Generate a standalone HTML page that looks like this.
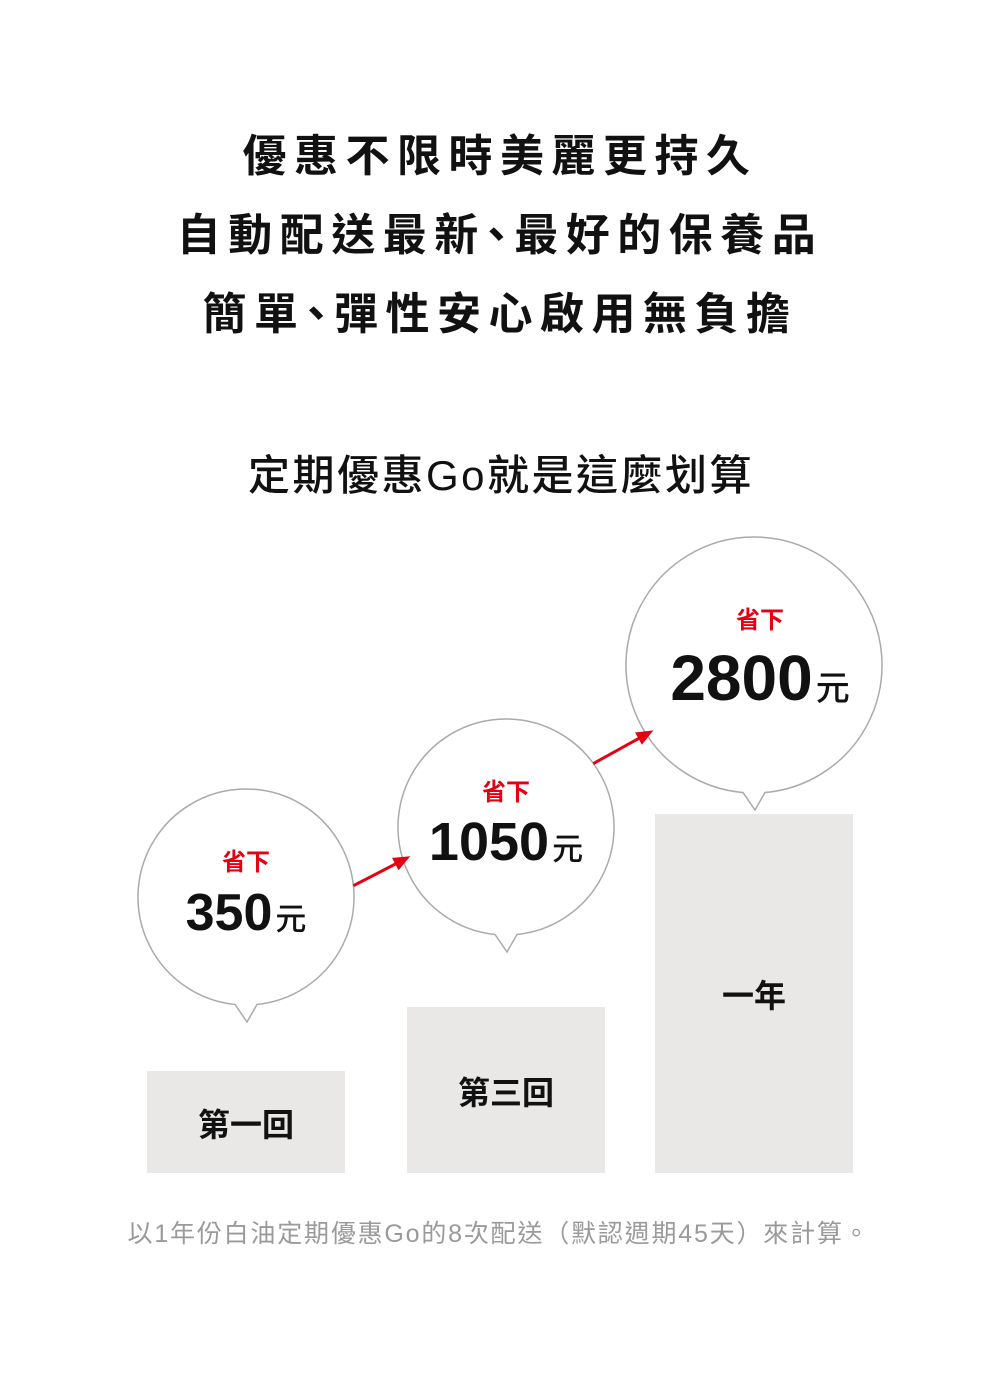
<!DOCTYPE html>
<html><head><meta charset="utf-8"><style>
html,body{margin:0;padding:0;background:#fff;}
svg{display:block;font-family:"Liberation Sans","Noto Sans CJK TC",sans-serif;}
</style></head><body>
<svg id="c" width="1000" height="1395" viewBox="0 0 1000 1395">
<g font-weight="700" font-size="44" fill="#111" text-anchor="middle" letter-spacing="7.5">
<text x="500" y="171">優惠不限時美麗更持久</text>
<text x="500" y="250">自動配送最<tspan letter-spacing="-4">新</tspan><tspan letter-spacing="-4">、</tspan>最好的保養品</text>
<text x="500" y="329">簡<tspan letter-spacing="-4">單</tspan><tspan letter-spacing="-4">、</tspan>彈性安心啟用無負擔</text>
</g>
<text x="501" y="490" text-anchor="middle" font-size="42" font-weight="500" fill="#111" letter-spacing="2.5">定期優惠Go就是這麼划算</text>
<g id="marks"></g>
<text x="499" y="1242" text-anchor="middle" font-size="25" fill="#9a9a9a" letter-spacing="1.8">以1年份白油定期優惠Go的8次配送（默認週期45天）來計算。</text>
</svg>
<script>
const categories = ["第一回","第三回","一年"];
const savings = [350,1050,2800];
const barValues = [102,166,359];
const bubbleRadius = [108,108,128];
const ns="http://www.w3.org/2000/svg";
const g=document.getElementById('marks');
const baseY=1173, barW=198;
const tipOffset=[49,55,4];
function xPos(i){return [147,407,655][i];}
function yScale(v){return baseY - v;}
function mk(t,a){const e=document.createElementNS(ns,t);for(const k in a)e.setAttribute(k,a[k]);g.appendChild(e);return e;}
const centers=[];
categories.forEach((c,i)=>{
  const x=xPos(i), y=yScale(barValues[i]);
  const r=mk('rect',{x:x,y:y,width:barW,height:baseY-y,fill:'#e9e8e6'});
  
  
  const cx=x+barW/2;
  const ly = i===2 ? y+193 : (i===1 ? y+97 : y+65);
  const t=mk('text',{x:cx,y:ly,'text-anchor':'middle','font-size':32,'font-weight':700,fill:'#111'});
  t.textContent=c;
  
  
  const R=bubbleRadius[i];
  const tipY=y-tipOffset[i];
  const cy=tipY-17-R;
  centers.push([cx,cy,R]);
  const ang=Math.asin(11/R);
  const x1=cx-11,x2=cx+11,by=cy+R*Math.cos(ang);
  const p=mk('path',{d:`M${x1},${by} A${R},${R} 0 1 1 ${x2},${by} L${cx+1},${tipY} Z`,fill:'#fff',stroke:'#aaa','stroke-width':1.5});
  
  
  const big=i===2?64:(i===1?54:52);
  const tx=cx+(i===2?6:0);
  const s=mk('text',{x:tx,y:cy+(i===2?-37:-27),'text-anchor':'middle','font-size':24,'font-weight':700,fill:'#e60012'});
  s.textContent='省下';
  
  
  const v=mk('text',{x:tx,y:cy+(i===2?35:33),'text-anchor':'middle','font-size':big,'font-weight':700,fill:'#111'});
  
  
  const ts=document.createElementNS(ns,'tspan');ts.textContent=savings[i];v.appendChild(ts);
  const tu=document.createElementNS(ns,'tspan');tu.setAttribute('font-size',i===2?34:31);tu.setAttribute('font-weight',500);tu.setAttribute('dx',3);tu.textContent='元';v.appendChild(tu);
});
// arrows between bubbles: start/end angles on circles (degrees)
const arrowAngles=[[-6,163],[-36,147]];
for(let i=0;i<2;i++){
  const a=centers[i],b=centers[i+1];
  const sa=arrowAngles[i][0]*Math.PI/180, ea=arrowAngles[i][1]*Math.PI/180;
  const sx=a[0]+a[2]*Math.cos(sa), sy=a[1]+a[2]*Math.sin(sa);
  const ex=b[0]+(b[2]-8)*Math.cos(ea), ey=b[1]+(b[2]-8)*Math.sin(ea);
  const dx=ex-sx,dy=ey-sy,d=Math.hypot(dx,dy),ux=dx/d,uy=dy/d;
  const l=mk('line',{x1:sx,y1:sy,x2:ex-ux*12,y2:ey-uy*12,stroke:'#e60012','stroke-width':3});
  
  
  const px=-uy,py=ux;
  const h=mk('polygon',{points:`${ex},${ey} ${ex-ux*17+px*7},${ey-uy*17+py*7} ${ex-ux*17-px*7},${ey-uy*17-py*7}`,fill:'#e60012'});
  
  
}
</script>
</body></html>
